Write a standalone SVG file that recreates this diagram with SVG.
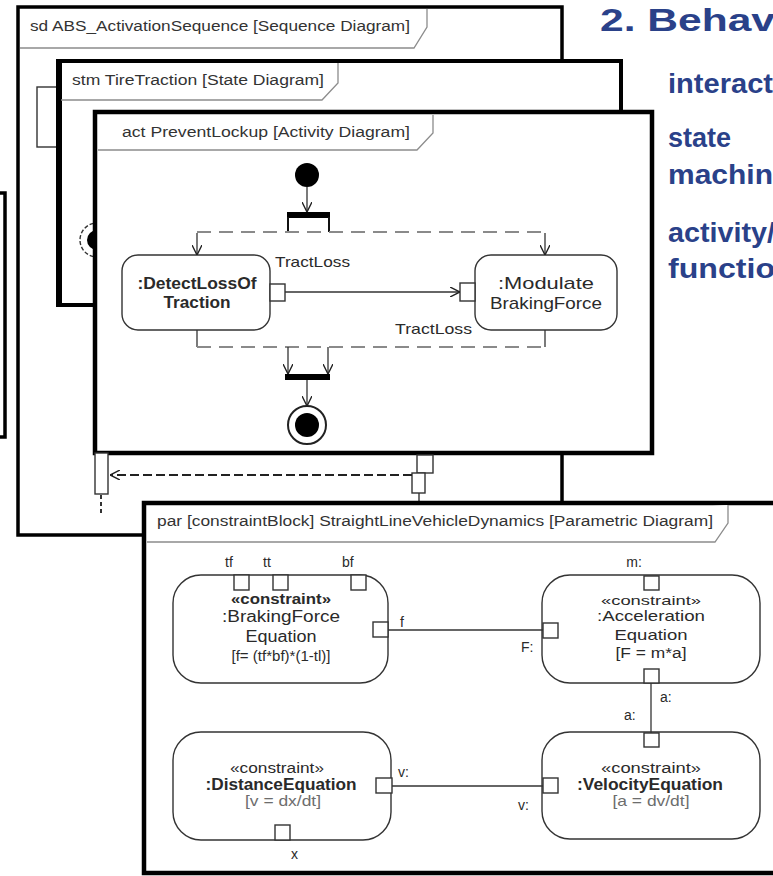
<svg xmlns="http://www.w3.org/2000/svg" width="773" height="876" viewBox="0 0 773 876">
  <style>
    .frame { fill: #fff; stroke: #000; }
    .hdr { fill: #fff; stroke: #8c8c8c; stroke-width: 1.3; }
    .ft { font-family: "Liberation Sans", Arial, sans-serif; font-size: 14px; fill: #333; }
    .node { fill: #fff; stroke: #333; stroke-width: 1.4; }
    .pin { fill: #fff; stroke: #333; stroke-width: 1.4; }
    .t { font-family: "Liberation Sans", Arial, sans-serif; fill: #2a2a2a; }
    .tc { font-family: "Liberation Sans", Arial, sans-serif; fill: #2a2a2a; text-anchor: middle; }
    .b { font-weight: bold; }
    .grey { fill: #6d6d6d; }
    .flow { fill: none; stroke: #333; stroke-width: 1.3; }
    .dash { fill: none; stroke: #8a8a8a; stroke-width: 2; stroke-dasharray: 14 8; }
    .side { font-family: "Liberation Sans", Arial, sans-serif; font-weight: bold; fill: #2a4189; }
  </style>
  <defs>
    <marker id="open" viewBox="0 0 10 10" refX="10" refY="5" markerWidth="10" markerHeight="10" markerUnits="userSpaceOnUse" orient="auto">
      <path d="M0,0 L10,5 L0,10" fill="none" stroke="#222" stroke-width="1.4" stroke-dasharray="none"/>
    </marker>
  </defs>

  <rect width="773" height="876" fill="#fff"/>

  <!-- headings on the right -->
  <g id="headings">
    <text class="side" x="600" y="31" font-size="32" fill="#1f3c8f" textLength="175" lengthAdjust="spacingAndGlyphs">2. Behav</text>
    <text class="side" x="668" y="93" font-size="27" textLength="105" lengthAdjust="spacingAndGlyphs">interact</text>
    <text class="side" x="668" y="147" font-size="27">state</text>
    <text class="side" x="668" y="184" font-size="27" textLength="105" lengthAdjust="spacingAndGlyphs">machin</text>
    <text class="side" x="668" y="242" font-size="27" textLength="107" lengthAdjust="spacingAndGlyphs">activity/</text>
    <text class="side" x="668" y="278" font-size="27" textLength="107" lengthAdjust="spacingAndGlyphs">functio</text>
  </g>

  <!-- frame partly outside the left edge -->
  <g id="frame-left">
    <rect class="frame" x="-30" y="193" width="35" height="244" stroke-width="3.5"/>
  </g>

  <!-- sequence diagram frame -->
  <g id="frame-sd">
    <rect class="frame" x="18" y="7" width="544" height="528" stroke-width="3.5"/>
    <path class="hdr" d="M427,9 V27 L414,48 H20"/>
    <text class="ft" x="30" y="31" textLength="380" lengthAdjust="spacingAndGlyphs">sd ABS_ActivationSequence [Sequence Diagram]</text>
    <rect class="node" x="37" y="87" width="40" height="60"/>
  </g>

  <!-- state diagram frame -->
  <g id="frame-stm">
    <rect class="frame" x="58" y="61" width="563" height="244" stroke-width="4"/>
    <line x1="59" y1="59" x2="59" y2="307" stroke="#000" stroke-width="6"/>
    <path class="hdr" d="M338,63 V83 L322,100 H61"/>
    <text class="ft" x="72" y="85" textLength="252" lengthAdjust="spacingAndGlyphs">stm TireTraction [State Diagram]</text>
    <circle cx="97" cy="240" r="17" fill="#fff" stroke="#333" stroke-width="1.4" stroke-dasharray="4 2"/>
    <circle cx="97" cy="240" r="10" fill="#000"/>
  </g>

  <!-- activity diagram frame -->
  <g id="frame-act">
    <rect class="frame" x="95" y="112" width="557" height="341" stroke-width="4.5"/>
    <path class="hdr" d="M433,115 V133 L417,150 H98"/>
    <text class="ft" x="122" y="137" textLength="288" lengthAdjust="spacingAndGlyphs">act PreventLockup [Activity Diagram]</text>
  </g>

  <g id="initial">
    <circle cx="307" cy="175" r="12" fill="#000"/>
  </g>
  <g id="fork">
    <rect x="287" y="212" width="43" height="6" fill="#000"/>
    <line x1="288" y1="217" x2="288" y2="232" stroke="#111" stroke-width="2"/>
    <line x1="329" y1="217" x2="329" y2="232" stroke="#111" stroke-width="2"/>
  </g>
  <g id="detect-loss-of-traction">
    <rect class="node" x="122" y="255" width="148" height="75" rx="16"/>
    <text class="tc b" x="197" y="289" font-size="17" textLength="119" lengthAdjust="spacingAndGlyphs">:DetectLossOf</text>
    <text class="tc b" x="197" y="308" font-size="17" textLength="67" lengthAdjust="spacingAndGlyphs">Traction</text>
    <rect class="pin" x="270" y="284" width="15" height="17"/>
  </g>
  <g id="modulate-braking-force">
    <rect class="node" x="475" y="255" width="142" height="75" rx="16"/>
    <text class="tc" x="546" y="289" font-size="17" textLength="96" lengthAdjust="spacingAndGlyphs">:Modulate</text>
    <text class="tc" x="546" y="309" font-size="17" textLength="112" lengthAdjust="spacingAndGlyphs">BrakingForce</text>
    <rect class="pin" x="460" y="283" width="15" height="18"/>
  </g>
  <g id="join">
    <rect x="285" y="374" width="45" height="6" fill="#000"/>
  </g>
  <g id="final">
    <circle cx="307" cy="425" r="19" fill="#fff" stroke="#222" stroke-width="2"/>
    <circle cx="307" cy="425" r="12" fill="#000"/>
  </g>

  <!-- sequence lifeline fragments below the activity frame -->
  <g id="lifeline-left">
    <rect class="node" x="95" y="453" width="13" height="41"/>
    <line x1="101" y1="495" x2="101" y2="515" stroke="#333" stroke-width="2" stroke-dasharray="4 3"/>
  </g>
  <g id="lifeline-right">
    <rect class="node" x="417" y="455" width="16" height="18"/>
    <rect class="node" x="412" y="473" width="13" height="20"/>
    <line x1="419" y1="493" x2="419" y2="503" stroke="#333" stroke-width="1.4"/>
  </g>

  <!-- parametric diagram frame -->
  <g id="frame-par">
    <rect class="frame" x="144" y="503" width="700" height="370" stroke-width="4.5"/>
    <path class="hdr" d="M728,505 V523 L715,542 H147"/>
    <text class="ft" x="157" y="526" textLength="556" lengthAdjust="spacingAndGlyphs">par [constraintBlock] StraightLineVehicleDynamics [Parametric Diagram]</text>
  </g>

  <g id="braking-force-equation">
    <rect class="node" x="173" y="575" width="215" height="108" rx="28"/>
    <text class="tc b" x="281" y="604" font-size="14" textLength="100" lengthAdjust="spacingAndGlyphs">«constraint»</text>
    <text class="tc" x="281" y="622" font-size="16" textLength="118" lengthAdjust="spacingAndGlyphs">:BrakingForce</text>
    <text class="tc" x="281" y="642" font-size="16" textLength="71" lengthAdjust="spacingAndGlyphs">Equation</text>
    <text class="tc" x="281" y="661" font-size="15" textLength="99" lengthAdjust="spacingAndGlyphs">[f= (tf*bf)*(1-tl)]</text>
    <rect class="pin" x="234" y="575" width="15" height="15"/>
    <rect class="pin" x="273" y="575" width="15" height="15"/>
    <rect class="pin" x="351" y="575" width="15" height="15"/>
    <rect class="pin" x="373" y="622" width="15" height="15"/>
    <text class="t" x="225" y="567" font-size="14">tf</text>
    <text class="t" x="263" y="567" font-size="14">tt</text>
    <text class="t" x="342" y="567" font-size="14">bf</text>
    <text class="t" x="400" y="627" font-size="14">f</text>
  </g>

  <g id="acceleration-equation">
    <rect class="node" x="542" y="575" width="218" height="108" rx="28"/>
    <text class="tc" x="651" y="605" font-size="13" textLength="100" lengthAdjust="spacingAndGlyphs">«constraint»</text>
    <text class="tc" x="651" y="621" font-size="15" textLength="108" lengthAdjust="spacingAndGlyphs">:Acceleration</text>
    <text class="tc" x="651" y="640" font-size="15" textLength="73" lengthAdjust="spacingAndGlyphs">Equation</text>
    <text class="tc" x="651" y="658" font-size="14" textLength="71" lengthAdjust="spacingAndGlyphs">[F = m*a]</text>
    <rect class="pin" x="644" y="576" width="15" height="14"/>
    <rect class="pin" x="543" y="623" width="15" height="15"/>
    <rect class="pin" x="644" y="669" width="15" height="14"/>
    <text class="tc" x="634" y="567" font-size="14">m:</text>
    <text class="t" x="521" y="652" font-size="14">F:</text>
    <text class="t" x="660" y="702" font-size="14">a:</text>
    <text class="t" x="624" y="720" font-size="14">a:</text>
  </g>

  <g id="distance-equation">
    <rect class="node" x="173" y="732" width="218" height="108" rx="28"/>
    <text class="tc" x="277" y="773" font-size="14" textLength="94" lengthAdjust="spacingAndGlyphs">«constraint»</text>
    <text class="tc b" x="281" y="790" font-size="16" textLength="151" lengthAdjust="spacingAndGlyphs">:DistanceEquation</text>
    <text class="tc grey" x="283" y="806" font-size="15" textLength="76" lengthAdjust="spacingAndGlyphs">[v = dx/dt]</text>
    <rect class="pin" x="376" y="778" width="16" height="15"/>
    <rect class="pin" x="275" y="825" width="15" height="15"/>
    <text class="t" x="398" y="777" font-size="14">v:</text>
    <text class="t" x="291" y="859" font-size="14">x</text>
  </g>

  <g id="velocity-equation">
    <rect class="node" x="542" y="732" width="218" height="107" rx="28"/>
    <text class="tc" x="651" y="773" font-size="14" textLength="100" lengthAdjust="spacingAndGlyphs">«constraint»</text>
    <text class="tc b" x="650" y="790" font-size="16" textLength="146" lengthAdjust="spacingAndGlyphs">:VelocityEquation</text>
    <text class="tc grey" x="651" y="806" font-size="15" textLength="77" lengthAdjust="spacingAndGlyphs">[a = dv/dt]</text>
    <rect class="pin" x="644" y="733" width="15" height="14"/>
    <rect class="pin" x="543" y="778" width="15" height="15"/>
    <text class="t" x="518" y="810" font-size="14">v:</text>
  </g>

  <!-- connectors -->
  <g id="connectors">
    <line class="flow" x1="307" y1="187" x2="307" y2="212" marker-end="url(#open)"/>
    <line class="dash" x1="197" y1="232" x2="545" y2="232"/>
    <line class="flow" x1="197" y1="233" x2="197" y2="255" marker-end="url(#open)"/>
    <line class="flow" x1="545" y1="233" x2="545" y2="255" marker-end="url(#open)"/>
    <line class="flow" x1="285" y1="292" x2="460" y2="292" marker-end="url(#open)"/>
    <text class="t" x="275" y="267" font-size="15" fill="#444" textLength="75" lengthAdjust="spacingAndGlyphs">TractLoss</text>
    <text class="t" x="395" y="334" font-size="15" fill="#444" textLength="77" lengthAdjust="spacingAndGlyphs">TractLoss</text>
    <line class="flow" x1="197" y1="330" x2="197" y2="347"/>
    <line class="dash" x1="197" y1="347" x2="545" y2="347"/>
    <line class="flow" x1="545" y1="347" x2="545" y2="330"/>
    <line class="flow" x1="288" y1="347" x2="288" y2="374" marker-end="url(#open)"/>
    <line class="flow" x1="328" y1="347" x2="328" y2="374" marker-end="url(#open)"/>
    <line class="flow" x1="307" y1="380" x2="307" y2="406" marker-end="url(#open)"/>
    <line x1="412" y1="475" x2="110" y2="475" stroke="#222" stroke-width="2" stroke-dasharray="9 4" marker-end="url(#open)"/>
    <line class="flow" x1="388" y1="630" x2="543" y2="630"/>
    <line class="flow" x1="651" y1="683" x2="651" y2="733"/>
    <line class="flow" x1="392" y1="786" x2="543" y2="786"/>
  </g>
</svg>
